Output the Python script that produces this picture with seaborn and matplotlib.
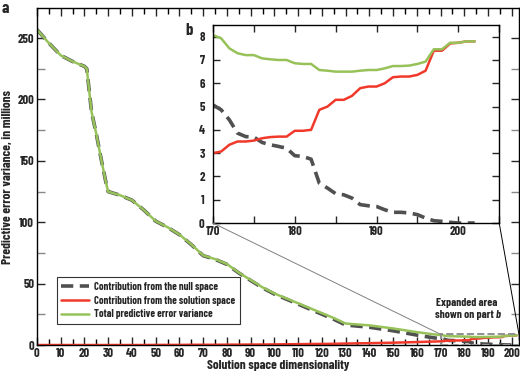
import numpy as np
import matplotlib
matplotlib.use("Agg")
import matplotlib.pyplot as plt
from matplotlib.patches import Rectangle, ConnectionPatch
from matplotlib.ticker import MultipleLocator
import seaborn as sns

# main panel (coarse) points, 0..165
DIM_A = [0, 5, 10, 15, 20, 21, 23, 25, 27, 29, 30, 35, 40, 45, 50, 55, 60, 65, 70, 75,
         80, 85, 90, 95, 100, 105, 110, 115, 120, 125, 130, 140, 150, 160, 165]
TOTAL_A = [257, 246, 236, 231, 227, 225, 190, 172, 152, 133, 125, 122, 118, 110, 101, 96,
           90, 82, 73, 70, 66, 59, 53, 47, 42, 38, 34, 30, 26, 22, 17.5, 16, 13.5, 10.5, 9.2]
SOL_A = [0, 0, 0, 0, 0, 0, 0, 0, 0, 0, 0, 0, 0, 0, 0.1, 0.1, 0.1, 0.2, 0.2, 0.2,
         0.3, 0.3, 0.4, 0.4, 0.5, 0.6, 0.7, 0.8, 0.9, 1.0, 1.2, 1.5, 1.9, 2.4, 2.7]
NULL_A = [257, 246, 236, 231, 227, 225, 190, 172, 152, 133, 125, 122, 118, 110, 100.9, 95.9,
          89.9, 81.8, 72.8, 69.8, 65.7, 58.7, 52.6, 46.6, 41.5, 37.4, 33.3, 29.2, 25.1, 21,
          16.3, 14.5, 11.6, 8.1, 6.5]

# expanded part, 170..202
DIM_B = list(range(170, 203))
TOTAL_B = [8.07, 7.93, 7.5, 7.29, 7.21, 7.21, 7.07, 7.03, 7.0, 7.0, 6.86, 6.83, 6.83, 6.57,
           6.54, 6.5, 6.5, 6.5, 6.54, 6.57, 6.57, 6.64, 6.74, 6.74, 6.76, 6.83, 6.93, 7.46,
           7.46, 7.74, 7.74, 7.8, 7.8]
SOL_B = [3.0, 3.07, 3.36, 3.5, 3.5, 3.54, 3.64, 3.69, 3.71, 3.71, 3.96, 3.96, 4.0, 4.86,
         5.0, 5.29, 5.29, 5.46, 5.79, 5.86, 5.86, 6.0, 6.26, 6.29, 6.29, 6.36, 6.54, 7.4,
         7.4, 7.71, 7.74, 7.8, 7.8]
NULL_B = [5.07, 4.86, 4.43, 3.86, 3.71, 3.69, 3.46, 3.36, 3.29, 3.21, 2.89, 2.86, 2.74, 1.71,
          1.5, 1.26, 1.21, 1.07, 0.79, 0.74, 0.71, 0.57, 0.46, 0.46, 0.43, 0.36, 0.21, 0.1,
          0.07, 0.03, 0.0, 0.0, 0.0]

LABELS = ["Contribution from the null space",
          "Contribution from the solution space",
          "Total predictive error variance"]

C_NULL = "#505050"
C_SOL = "#f0392b"
C_TOT = "#97c25a"
DASH = (0, (3.4, 1.8))

sns.set_style("ticks")
plt.rcParams["font.family"] = ["Barlow Condensed", "DejaVu Sans"]
plt.rcParams["font.weight"] = "bold"

fig = plt.figure(figsize=(5.2, 3.74), dpi=100)
ax = fig.add_axes([0.071, 0.0775, 0.927, 0.901])

dims = DIM_A + DIM_B
sns.lineplot(x=dims, y=NULL_A + NULL_B, color=C_NULL, lw=2.6, linestyle=DASH,
             label=LABELS[0], ax=ax)
sns.lineplot(x=dims, y=SOL_A + SOL_B, color=C_SOL, lw=1.8, label=LABELS[1], ax=ax)
sns.lineplot(x=dims, y=TOTAL_A + TOTAL_B, color=C_TOT, lw=1.8, label=LABELS[2], ax=ax)

ax.set_xlim(0, 203)
ax.set_ylim(0, 274.5)
ax.xaxis.set_major_locator(MultipleLocator(10))
ax.xaxis.set_minor_locator(MultipleLocator(5))
ax.yaxis.set_major_locator(MultipleLocator(50))
ax.yaxis.set_minor_locator(MultipleLocator(25))
ax.tick_params(which="both", direction="in", top=True, right=True, width=1, labelsize=9, pad=2)
ax.tick_params(which="major", length=6)
ax.tick_params(which="minor", length=6, color="#888888")
ax.tick_params(axis="x", which="minor", length=4, color="black")
for sp in ax.spines.values():
    sp.set_linewidth(1)
    sp.set_color("black")
ax.set_xlabel("Solution space dimensionality", fontsize=9.5, fontweight="bold", labelpad=1)
ax.set_ylabel("Predictive error variance, in millions", fontsize=9.5, fontweight="bold", labelpad=3)

leg = ax.legend(loc="lower left", bbox_to_anchor=(0.041, 0.062), borderaxespad=0,
                fancybox=False, frameon=True, fontsize=7.6, handlelength=2.6,
                borderpad=0.45, labelspacing=0.35, handletextpad=0.5)
leg.get_frame().set_edgecolor("black")
leg.get_frame().set_linewidth(0.8)

ax.add_patch(Rectangle((170, 0), 33, 8.7, fill=False, ls="--", lw=1.4, ec="#909090", zorder=5))
t1 = ax.text(181, 30, "Expanded area", ha="center", va="bottom", fontsize=8.2, fontweight="bold")
t2 = ax.text(180.3, 20.5, "shown on part ", ha="center", va="bottom", fontsize=8.2, fontweight="bold")
ax.annotate("b", xy=(1, 0), xycoords=t2, va="bottom", ha="left", fontsize=8.2,
            fontweight="bold", fontstyle="italic")

# inset
axin = fig.add_axes([0.4096, 0.4037, 0.5504, 0.5293])
sns.lineplot(x=DIM_B, y=NULL_B, color=C_NULL, lw=2.6, linestyle=DASH, ax=axin)
sns.lineplot(x=DIM_B, y=SOL_B, color=C_SOL, lw=1.8, ax=axin)
sns.lineplot(x=DIM_B, y=TOTAL_B, color=C_TOT, lw=1.8, ax=axin)
axin.set_xlim(170, 205)
axin.set_ylim(0, 8.5)
axin.xaxis.set_major_locator(MultipleLocator(10))
axin.xaxis.set_minor_locator(MultipleLocator(5))
axin.yaxis.set_major_locator(MultipleLocator(1))
axin.tick_params(which="both", direction="in", top=True, right=True, width=1, labelsize=9, pad=2)
axin.tick_params(axis="y", pad=6)
axin.tick_params(which="major", length=5)
axin.tick_params(which="minor", length=5)
for sp in axin.spines.values():
    sp.set_linewidth(1)
    sp.set_color("black")

for xa, xb, col in [(170, 170, "#808080"), (203, 205, "black")]:
    cp = ConnectionPatch(xyA=(xa, 8.7), coordsA=ax.transData, xyB=(xb, 0), coordsB=axin.transData,
                         color=col, lw=0.7)
    fig.add_artist(cp)

fig.text(0.004, 0.978, "a", fontsize=12, fontweight="bold", va="center")
fig.text(0.357, 0.918, "b", fontsize=12, fontweight="bold", va="center")

fig.savefig("out.png", dpi=100)
